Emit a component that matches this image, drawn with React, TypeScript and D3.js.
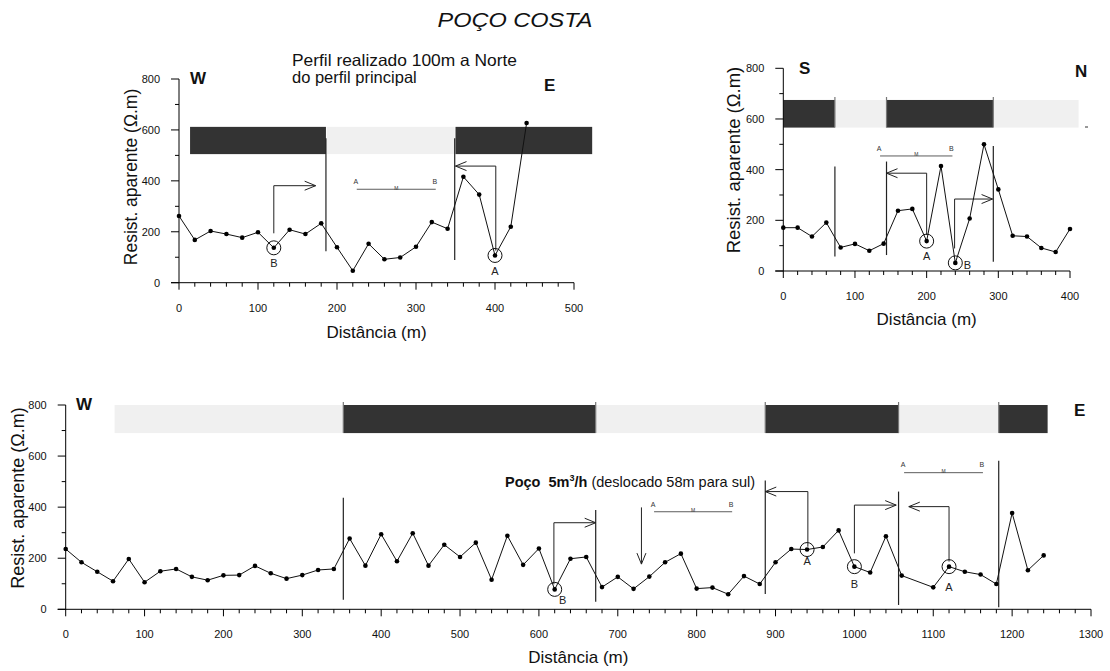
import React from "react";
import * as d3 from "d3";

// ---------- DATA ----------
const tlDist = [0, 20, 40, 60, 80, 100, 120, 140, 160, 180, 200, 220, 240, 260, 280, 300, 320, 340, 360, 380, 400, 420, 440];
const tlRes = [262, 168, 203, 191, 177, 198, 137, 208, 191, 233, 139, 47, 153, 92, 99, 141, 238, 212, 416, 346, 107, 220, 627];

const trDist = [0, 20, 40, 60, 80, 100, 120, 140, 160, 180, 200, 220, 240, 260, 280, 300, 320, 340, 360, 380, 400];
const trRes = [171, 171, 136, 191, 93, 107, 80, 108, 238, 245, 118, 414, 32, 207, 500, 322, 139, 136, 91, 75, 166];

const botDist = [
  0, 20, 40, 60, 80, 100, 120, 140, 160, 180, 200, 220, 240, 260, 280, 300, 320, 340,
  360, 380, 400, 420, 440, 460, 480, 500, 520, 540, 560, 580, 600, 620, 640, 660, 680,
  700, 720, 740, 760, 780, 800, 820, 840, 860, 880, 900, 920, 940, 960, 980, 1000, 1020,
  1040, 1060, 1100, 1120, 1140, 1160, 1180, 1200, 1220, 1240,
];
const botRes = [
  236, 184, 147, 110, 197, 106, 149, 158, 127, 114, 133, 134, 170, 141, 120, 134, 154, 158,
  277, 171, 294, 188, 298, 171, 253, 205, 261, 116, 288, 174, 238, 78, 198, 205, 87,
  127, 80, 128, 184, 218, 81, 85, 59, 130, 99, 184, 236, 234, 244, 309, 167, 144,
  286, 132, 86, 167, 147, 136, 99, 377, 153, 211,
];

const yTicks = [0, 100, 200, 300, 400, 500, 600, 700, 800];

// geology bands [from, to, dark]
const tlBands: [number, number, boolean][] = [[14, 186, true], [187, 349, false], [350, 523, true]];
const trBands: [number, number, boolean][] = [[0, 72, true], [72, 144, false], [144, 293, true], [293, 412, false]];
const botBands: [number, number, boolean][] = [[62, 352, false], [352, 672, true], [672, 887, false], [887, 1056, true], [1056, 1183, false], [1183, 1245, true]];

// vertical contacts [x, yLow, yHigh]
const tlVLines = [[186, 124, 567], [349, 89, 567]];
const trVLines = [[72, 57, 412], [144, 63, 432], [293, 37, 493]];
const botVLines = [[352, 37, 437], [672, 30, 389], [887, 60, 504], [1056, 17, 461], [1183, 8, 582]];

// arrows [x, yFrom, yTurn, xTo]
const tlArrows = [[120, 194, 381, 173], [401, 126, 458, 350]];
const trArrows = [[200, 142, 386, 144], [239, 89, 284, 292]];
const botArrows = [[619, 98, 339, 672], [941, 245, 461, 887], [1000, 219, 408, 1053], [1120, 187, 402, 1069]];

// circled points [x, y, label, dx, dy]
const tlCircles: [number, number, string, number, number][] = [[120, 137, "B", 0, 19], [400, 107, "A", 0, 20]];
const trCircles: [number, number, string, number, number][] = [[200, 118, "A", 0, 19], [240, 32, "B", 12, 6]];
const botCircles: [number, number, string, number, number][] = [[620, 78, "B", 8, 15], [940, 234, "A", 0, 15], [1000, 167, "B", 0, 21], [1120, 167, "A", 0, 24]];

// AB electrode spacing marks [xA, xB, yLine, yText]
const tlAB = [[225, 325, 367, 389]];
const trAB = [[135, 236, 454, 474]];
const botAB = [[746, 845, 382, 399], [1063, 1163, 535, 557]];

const FONT = "'Liberation Sans', Arial, Helvetica, sans-serif";

type PanelProps = {
  xMax: number;
  xr: [number, number];
  xDomainEnd: number;
  yr: [number, number];
  dist: number[];
  res: number[];
  bands: [number, number, boolean][];
  bandY: [number, number];
  vlines: number[][];
  arrows: number[][];
  circles: [number, number, string, number, number][];
  ab: number[][];
  yLabelX: number;
  yLabelY: number;
  yLabelSize: number;
  xLabelY: number;
  separators: boolean;
};

function Panel(p: PanelProps) {
  const x = d3.scaleLinear().domain([0, p.xDomainEnd]).range(p.xr);
  const y = d3.scaleLinear().domain([0, 800]).range(p.yr);
  const line = d3
    .line<number>()
    .x((_, i) => x(p.dist[i]))
    .y((d) => y(d));
  const xTicks = d3.range(0, p.xMax + 1, 20);
  const x0 = x(0);
  const y0 = y(0);
  const ah = 11;
  const aw = 4.5;
  return (
    <g>
      {p.bands.map(([a, b, dark], i) => (
        <rect
          key={"b" + i}
          x={x(a)}
          y={y(p.bandY[1])}
          width={x(b) - x(a)}
          height={y(p.bandY[0]) - y(p.bandY[1])}
          fill={dark ? "#333333" : "#f0f0f0"}
        />
      ))}
      {p.separators &&
        p.bands.slice(1).map(([a], i) => (
          <line key={"s" + i} x1={x(a)} x2={x(a)} y1={y(p.bandY[1]) - 3} y2={y(p.bandY[0])} stroke="#777" strokeWidth={1.2} />
        ))}
      {p.vlines.map(([vx, lo, hi], i) => (
        <line key={"v" + i} x1={x(vx)} x2={x(vx)} y1={y(lo)} y2={y(hi)} stroke="#222" strokeWidth={1.2} />
      ))}
      {p.arrows.map(([ax, yf, yt, xt], i) => {
        const dir = xt > ax ? 1 : -1;
        const tx = x(xt);
        const ty = y(yt);
        return (
          <g key={"a" + i} fill="none" stroke="#222" strokeWidth={1}>
            <path d={`M${x(ax)},${y(yf)}V${ty}H${tx}`} />
            <path d={`M${tx - dir * ah},${ty - aw}L${tx},${ty}L${tx - dir * ah},${ty + aw}`} />
          </g>
        );
      })}
      {p.ab.map(([xa, xb, yl, yt], i) => (
        <g key={"ab" + i} fontFamily={FONT} fill="#333">
          <line x1={x(xa)} x2={x(xb)} y1={y(yl)} y2={y(yl)} stroke="#333" strokeWidth={0.8} />
          <text x={x(xa) - 1} y={y(yt)} fontSize={7} textAnchor="middle">A</text>
          <text x={x(xb) - 1} y={y(yt)} fontSize={7} textAnchor="middle">B</text>
          <text x={(x(xa) + x(xb)) / 2} y={y(yl) + 0.5} fontSize={5} textAnchor="middle">M</text>
        </g>
      ))}
      <path d={line(p.res) || ""} fill="none" stroke="#111" strokeWidth={1} />
      {p.res.map((v, i) => (
        <circle key={"d" + i} cx={x(p.dist[i])} cy={y(v)} r={2.3} fill="#000" />
      ))}
      {p.circles.map(([cx, cy, lab, dx, dy], i) => (
        <g key={"c" + i}>
          <circle cx={x(cx)} cy={y(cy)} r={7} fill="none" stroke="#111" strokeWidth={1} />
          <text x={x(cx) + dx} y={y(cy) + dy} fontSize={11} fontFamily={FONT} textAnchor="middle" fill="#222">
            {lab}
          </text>
        </g>
      ))}
      {/* axes */}
      <line x1={x0} x2={x0} y1={y(0)} y2={y(800)} stroke="#000" strokeWidth={1} />
      <line x1={x0 - 8} x2={x(p.xMax)} y1={y0} y2={y0} stroke="#000" strokeWidth={1} />
      {yTicks.map((t) => (
        <g key={"yt" + t}>
          <line x1={x0 - (t % 200 === 0 ? 8 : 4)} x2={x0} y1={y(t)} y2={y(t)} stroke="#000" strokeWidth={1} />
          {t % 200 === 0 && (
            <text x={x0 - 19} y={y(t)} dy="0.35em" fontSize={11} fontFamily={FONT} textAnchor="end" fill="#111">
              {t}
            </text>
          )}
        </g>
      ))}
      {xTicks.map((t) => (
        <g key={"xt" + t}>
          <line x1={x(t)} x2={x(t)} y1={y0} y2={y0 + (t % 100 === 0 ? 7 : 4)} stroke="#000" strokeWidth={1} />
          {t % 100 === 0 && (
            <text x={x(t)} y={y0 + 29} fontSize={11} fontFamily={FONT} textAnchor="middle" fill="#111">
              {t}
            </text>
          )}
        </g>
      ))}
      <text
        transform={`translate(${p.yLabelX},${p.yLabelY}) rotate(-90)`}
        fontSize={p.yLabelSize}
        fontFamily={FONT}
        textAnchor="middle"
        fill="#111"
      >
        Resist. aparente (Ω.m)
      </text>
      <text x={(x0 + x(p.xMax)) / 2} y={p.xLabelY} fontSize={17} fontFamily={FONT} textAnchor="middle" fill="#111">
        Distância (m)
      </text>
    </g>
  );
}

export default function App() {
  const bx = d3.scaleLinear().domain([0, 1300]).range([65.7, 1091]);
  const by = d3.scaleLinear().domain([0, 800]).range([609.3, 405]);
  return (
    <svg width={1110} height={671} style={{ position: "absolute", left: 0, top: 0, background: "#fff" }} fontFamily={FONT}>
      <rect width={1110} height={671} fill="#fff" />
      <text x={515} y={27} fontSize={21} fontStyle="italic" textAnchor="middle" textLength={155} lengthAdjust="spacingAndGlyphs" fill="#111">
        POÇO COSTA
      </text>

      {/* top-left */}
      <Panel
        xMax={500}
        xDomainEnd={500}
        xr={[179, 574]}
        yr={[282.7, 79]}
        dist={tlDist}
        res={tlRes}
        bands={tlBands}
        bandY={[505, 612]}
        vlines={tlVLines}
        arrows={tlArrows}
        circles={tlCircles}
        ab={tlAB}
        yLabelX={137}
        yLabelY={177}
        yLabelSize={17.5}
        xLabelY={338}
        separators={false}
      />
      <text x={190} y={84} fontSize={17} fontWeight="bold" fill="#111">W</text>
      <text x={544} y={91} fontSize={17} fontWeight="bold" fill="#111">E</text>
      <text x={292} y={66} fontSize={16.5} textLength={225} lengthAdjust="spacingAndGlyphs" fill="#111">Perfil realizado 100m a Norte</text>
      <text x={292} y={83} fontSize={16.5} fill="#111">do perfil principal</text>

      {/* top-right */}
      <Panel
        xMax={400}
        xDomainEnd={400}
        xr={[783.3, 1070]}
        yr={[271, 68.3]}
        dist={trDist}
        res={trRes}
        bands={trBands}
        bandY={[566, 675]}
        vlines={trVLines}
        arrows={trArrows}
        circles={trCircles}
        ab={trAB}
        yLabelX={740}
        yLabelY={160}
        yLabelSize={18.5}
        xLabelY={325}
        separators={true}
      />
      <text x={799} y={74} fontSize={17} fontWeight="bold" fill="#111">S</text>
      <text x={1075} y={77} fontSize={17} fontWeight="bold" fill="#111">N</text>
      <line x1={1085} x2={1088} y1={127} y2={127} stroke="#333" strokeWidth={1} />

      {/* bottom */}
      <Panel
        xMax={1300}
        xDomainEnd={1300}
        xr={[65.7, 1091]}
        yr={[609.3, 405]}
        dist={botDist}
        res={botRes}
        bands={botBands}
        bandY={[690, 800]}
        vlines={botVLines}
        arrows={botArrows}
        circles={botCircles}
        ab={botAB}
        yLabelX={24}
        yLabelY={498}
        yLabelSize={18}
        xLabelY={663}
        separators={true}
      />
      <g fill="none" stroke="#222" strokeWidth={1}>
        <path d={`M${bx(730)},${by(399)}V${by(177)}`} />
        <path d={`M${bx(730) - 4.5},${by(177) - 11}L${bx(730)},${by(177)}L${bx(730) + 4.5},${by(177) - 11}`} />
      </g>
      <text x={76} y={410} fontSize={17} fontWeight="bold" fill="#111">W</text>
      <text x={1074} y={416} fontSize={17} fontWeight="bold" fill="#111">E</text>
      <text x={bx(557)} y={by(480)} fontSize={14.5} fill="#111">
        <tspan fontWeight="bold">{"Poço\u00a0\u00a05m"}</tspan>
        <tspan fontWeight="bold" fontSize={9} dy={-6}>3</tspan>
        <tspan fontWeight="bold" dy={6}>/h</tspan>
        <tspan>{"\u00a0(deslocado 58m para sul)"}</tspan>
      </text>
    </svg>
  );
}
